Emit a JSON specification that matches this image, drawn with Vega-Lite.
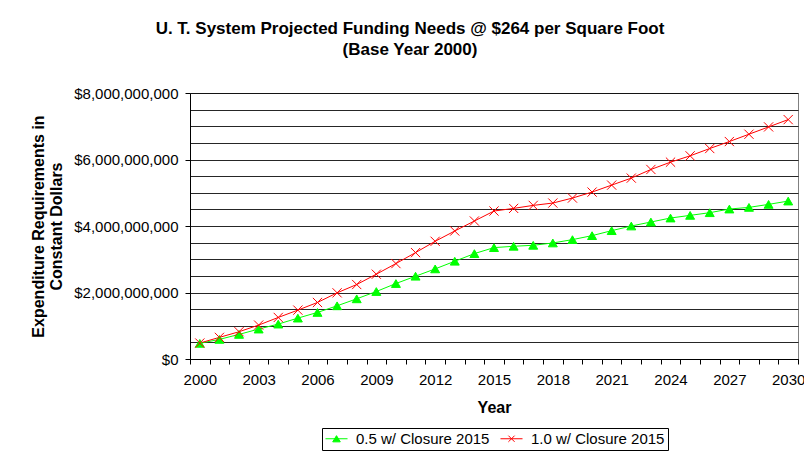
{
  "$schema": "https://vega.github.io/schema/vega-lite/v6.json",
  "width": 608,
  "height": 266,
  "autosize": "none",
  "padding": {"left": 190, "top": 93, "right": 6, "bottom": 93},
  "background": "white",
  "config": {
    "font": "Liberation Sans",
    "view": {"stroke": "#808080", "strokeWidth": 1}
  },
  "title": {
    "text": ["U. T. System Projected Funding Needs @ $264 per Square Foot", "(Base Year 2000)"],
    "fontSize": 17,
    "fontWeight": "bold",
    "font": "Liberation Sans",
    "color": "#000000",
    "anchor": "middle",
    "frame": "group",
    "dx": -84,
    "offset": 27,
    "lineHeight": 21
  },
  "data": {
    "values": [
      {"year": 2000, "series": "0.5 w/ Closure 2015", "value": 470000000},
      {"year": 2001, "series": "0.5 w/ Closure 2015", "value": 590000000},
      {"year": 2002, "series": "0.5 w/ Closure 2015", "value": 740000000},
      {"year": 2003, "series": "0.5 w/ Closure 2015", "value": 900000000},
      {"year": 2004, "series": "0.5 w/ Closure 2015", "value": 1050000000},
      {"year": 2005, "series": "0.5 w/ Closure 2015", "value": 1230000000},
      {"year": 2006, "series": "0.5 w/ Closure 2015", "value": 1400000000},
      {"year": 2007, "series": "0.5 w/ Closure 2015", "value": 1600000000},
      {"year": 2008, "series": "0.5 w/ Closure 2015", "value": 1810000000},
      {"year": 2009, "series": "0.5 w/ Closure 2015", "value": 2030000000},
      {"year": 2010, "series": "0.5 w/ Closure 2015", "value": 2270000000},
      {"year": 2011, "series": "0.5 w/ Closure 2015", "value": 2490000000},
      {"year": 2012, "series": "0.5 w/ Closure 2015", "value": 2710000000},
      {"year": 2013, "series": "0.5 w/ Closure 2015", "value": 2940000000},
      {"year": 2014, "series": "0.5 w/ Closure 2015", "value": 3170000000},
      {"year": 2015, "series": "0.5 w/ Closure 2015", "value": 3350000000},
      {"year": 2016, "series": "0.5 w/ Closure 2015", "value": 3390000000},
      {"year": 2017, "series": "0.5 w/ Closure 2015", "value": 3420000000},
      {"year": 2018, "series": "0.5 w/ Closure 2015", "value": 3490000000},
      {"year": 2019, "series": "0.5 w/ Closure 2015", "value": 3590000000},
      {"year": 2020, "series": "0.5 w/ Closure 2015", "value": 3710000000},
      {"year": 2021, "series": "0.5 w/ Closure 2015", "value": 3860000000},
      {"year": 2022, "series": "0.5 w/ Closure 2015", "value": 4000000000},
      {"year": 2023, "series": "0.5 w/ Closure 2015", "value": 4120000000},
      {"year": 2024, "series": "0.5 w/ Closure 2015", "value": 4240000000},
      {"year": 2025, "series": "0.5 w/ Closure 2015", "value": 4320000000},
      {"year": 2026, "series": "0.5 w/ Closure 2015", "value": 4400000000},
      {"year": 2027, "series": "0.5 w/ Closure 2015", "value": 4510000000},
      {"year": 2028, "series": "0.5 w/ Closure 2015", "value": 4560000000},
      {"year": 2029, "series": "0.5 w/ Closure 2015", "value": 4650000000},
      {"year": 2030, "series": "0.5 w/ Closure 2015", "value": 4750000000},
      {"year": 2000, "series": "1.0 w/ Closure 2015", "value": 480000000},
      {"year": 2001, "series": "1.0 w/ Closure 2015", "value": 650000000},
      {"year": 2002, "series": "1.0 w/ Closure 2015", "value": 820000000},
      {"year": 2003, "series": "1.0 w/ Closure 2015", "value": 1020000000},
      {"year": 2004, "series": "1.0 w/ Closure 2015", "value": 1250000000},
      {"year": 2005, "series": "1.0 w/ Closure 2015", "value": 1470000000},
      {"year": 2006, "series": "1.0 w/ Closure 2015", "value": 1700000000},
      {"year": 2007, "series": "1.0 w/ Closure 2015", "value": 1990000000},
      {"year": 2008, "series": "1.0 w/ Closure 2015", "value": 2240000000},
      {"year": 2009, "series": "1.0 w/ Closure 2015", "value": 2550000000},
      {"year": 2010, "series": "1.0 w/ Closure 2015", "value": 2870000000},
      {"year": 2011, "series": "1.0 w/ Closure 2015", "value": 3200000000},
      {"year": 2012, "series": "1.0 w/ Closure 2015", "value": 3540000000},
      {"year": 2013, "series": "1.0 w/ Closure 2015", "value": 3850000000},
      {"year": 2014, "series": "1.0 w/ Closure 2015", "value": 4150000000},
      {"year": 2015, "series": "1.0 w/ Closure 2015", "value": 4450000000},
      {"year": 2016, "series": "1.0 w/ Closure 2015", "value": 4530000000},
      {"year": 2017, "series": "1.0 w/ Closure 2015", "value": 4620000000},
      {"year": 2018, "series": "1.0 w/ Closure 2015", "value": 4690000000},
      {"year": 2019, "series": "1.0 w/ Closure 2015", "value": 4840000000},
      {"year": 2020, "series": "1.0 w/ Closure 2015", "value": 5020000000},
      {"year": 2021, "series": "1.0 w/ Closure 2015", "value": 5230000000},
      {"year": 2022, "series": "1.0 w/ Closure 2015", "value": 5440000000},
      {"year": 2023, "series": "1.0 w/ Closure 2015", "value": 5700000000},
      {"year": 2024, "series": "1.0 w/ Closure 2015", "value": 5920000000},
      {"year": 2025, "series": "1.0 w/ Closure 2015", "value": 6110000000},
      {"year": 2026, "series": "1.0 w/ Closure 2015", "value": 6330000000},
      {"year": 2027, "series": "1.0 w/ Closure 2015", "value": 6540000000},
      {"year": 2028, "series": "1.0 w/ Closure 2015", "value": 6760000000},
      {"year": 2029, "series": "1.0 w/ Closure 2015", "value": 6980000000},
      {"year": 2030, "series": "1.0 w/ Closure 2015", "value": 7200000000}
    ]
  },
  "layer": [
    {
      "mark": {"type": "line", "strokeWidth": 1},
      "encoding": {
        "x": {
          "field": "year", "type": "quantitative",
          "scale": {"domain": [1999.5, 2030.5], "nice": false, "zero": false},
          "axis": {
            "orient": "bottom",
            "values": [2000, 2003, 2006, 2009, 2012, 2015, 2018, 2021, 2024, 2027, 2030],
            "format": "d",
            "ticks": false,
            "tickSize": 0,
            "grid": false,
            "domain": true,
            "domainColor": "#000000",
            "labelFontSize": 15,
            "labelColor": "#000000",
            "labelPadding": 13,
            "labelOverlap": false,
            "labelFlush": false,
            "labelBound": false,
            "title": "Year",
            "titleFontSize": 16,
            "titleFontWeight": "bold",
            "titleColor": "#000000",
            "titlePadding": 12
          }
        },
        "y": {
          "field": "value", "type": "quantitative",
          "scale": {"domain": [0, 8000000000], "nice": false, "zero": true},
          "axis": {
            "orient": "left",
            "values": [0, 2000000000, 4000000000, 6000000000, 8000000000],
            "format": "$,.0f",
            "grid": false,
            "domainColor": "#000000",
            "tickColor": "#000000",
            "tickSize": 5,
            "labelFontSize": 15,
            "labelColor": "#000000",
            "labelPadding": 7,
            "title": ["Expenditure Requirements in", "Constant Dollars"],
            "titleFontSize": 16,
            "titleFontWeight": "bold",
            "titleColor": "#000000",
            "titleLineHeight": 18,
            "titlePadding": 9
          }
        },
        "stroke": {
          "field": "series", "type": "nominal",
          "scale": {"domain": ["0.5 w/ Closure 2015", "1.0 w/ Closure 2015"], "range": ["#00ff00", "#ff0000"]}
        }
      }
    },
    {
      "transform": [{"filter": "datum.series === '0.5 w/ Closure 2015'"}],
      "mark": {"type": "point", "shape": "triangle-up", "filled": true, "strokeWidth": 1, "opacity": 1, "size": 80},
      "encoding": {
        "x": {
          "field": "year", "type": "quantitative",
          "axis": {
            "orient": "bottom",
            "values": [1999.5, 2000.5, 2001.5, 2002.5, 2003.5, 2004.5, 2005.5, 2006.5, 2007.5, 2008.5, 2009.5, 2010.5, 2011.5, 2012.5, 2013.5, 2014.5, 2015.5, 2016.5, 2017.5, 2018.5, 2019.5, 2020.5, 2021.5, 2022.5, 2023.5, 2024.5, 2025.5, 2026.5, 2027.5, 2028.5, 2029.5, 2030.5],
            "labels": false,
            "ticks": true,
            "tickSize": 5,
            "tickColor": "#000000",
            "domain": true,
            "domainColor": "#000000",
            "grid": false,
            "title": null
          }
        },
        "y": {
          "field": "value", "type": "quantitative",
          "axis": {
            "orient": "right",
            "values": [0, 500000000, 1000000000, 1500000000, 2000000000, 2500000000, 3000000000, 3500000000, 4000000000, 4500000000, 5000000000, 5500000000, 6000000000, 6500000000, 7000000000, 7500000000, 8000000000],
            "labels": false,
            "ticks": false,
            "domain": false,
            "grid": true,
            "gridColor": "#000000",
            "gridWidth": 1,
            "gridOpacity": 0.85,
            "title": null
          }
        },
        "color": {
          "field": "series", "type": "nominal",
          "scale": {"domain": ["0.5 w/ Closure 2015", "1.0 w/ Closure 2015"], "range": ["#00ff00", "#ff0000"]},
          "legend": {
            "orient": "none",
            "legendX": 132,
            "legendY": 335,
            "direction": "horizontal",
            "title": null,
            "strokeColor": "#000000",
            "fillColor": "#ffffff",
            "padding": 3,
            "labelFontSize": 15,
            "labelColor": "#000000",
            "labelOffset": 12,
            "symbolOffset": 4,
            "columnPadding": 8,
            "symbolSize": 190,
            "symbolStrokeWidth": 1
          }
        },
        "stroke": {"field": "series", "type": "nominal"}
      }
    },
    {
      "transform": [{"filter": "datum.series === '1.0 w/ Closure 2015'"}],
      "mark": {"type": "point", "shape": "M-1,-1L1,1M-1,1L1,-1", "filled": true, "strokeWidth": 1, "opacity": 1, "size": 85},
      "encoding": {
        "x": {"field": "year", "type": "quantitative", "axis": null},
        "y": {"field": "value", "type": "quantitative", "axis": null},
        "color": {"field": "series", "type": "nominal"},
        "stroke": {"field": "series", "type": "nominal"}
      }
    },
    {
      "mark": {"type": "point", "filled": true, "strokeWidth": 1, "size": 0},
      "encoding": {
        "x": {"field": "year", "type": "quantitative", "axis": null},
        "y": {"field": "value", "type": "quantitative", "axis": null},
        "color": {"field": "series", "type": "nominal"},
        "stroke": {"field": "series", "type": "nominal"},
        "shape": {
          "field": "series", "type": "nominal",
          "scale": {"domain": ["0.5 w/ Closure 2015", "1.0 w/ Closure 2015"], "range": ["M-1.6,0H1.6M-0.55,0.45L0,-0.45L0.55,0.45Z", "M-1.6,0H1.6M-0.45,-0.45L0.45,0.45M-0.45,0.45L0.45,-0.45"]}
        }
      }
    }
  ],
  "resolve": {"axis": {"x": "independent", "y": "independent"}}
}
